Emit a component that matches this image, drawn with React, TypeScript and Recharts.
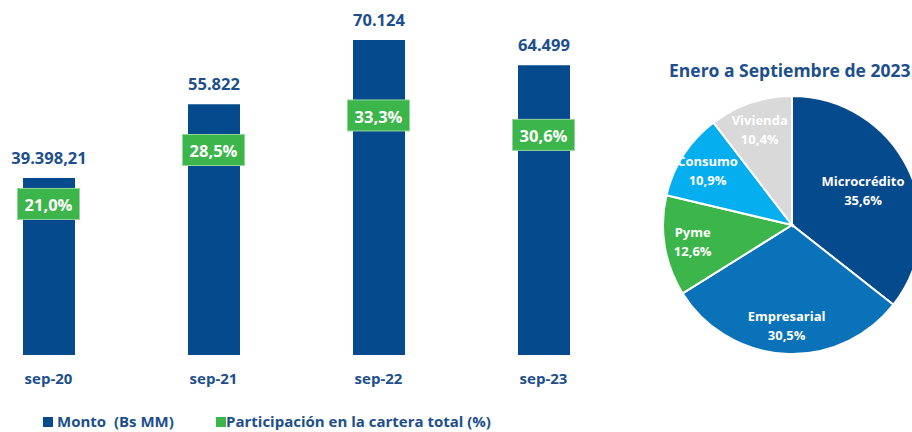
import React from 'react';
import { Bar, Line, XAxis, YAxis, LabelList, PieChart, Pie, Cell, ComposedChart } from 'recharts';

const categorias = ['sep-20', 'sep-21', 'sep-22', 'sep-23'];
const montos = [39398.21, 55822, 70124, 64499];
const participacion = [21.0, 28.5, 33.3, 30.6];

const sectores = ['Microcrédito', 'Empresarial', 'Pyme', 'Consumo', 'Vivienda'];
const sectorPct = [35.6, 30.5, 12.6, 10.9, 10.4];
const sectorColores = ['#044A8C', '#0A72B9', '#3CB54A', '#05AEEF', '#D9D9D9'];

const tituloPie = 'Enero a Septiembre de 2023';
const leyenda = ['Monto  (Bs MM)', 'Participación en la cartera total (%)'];

const AZUL = '#044A8C';
const TEXTO = '#1C4F8C';
const VERDE = '#3CB54A';
const FONT = '"Open Sans", sans-serif';

const barData = categorias.map((c, i) => ({ cat: c, monto: montos[i], pct: participacion[i] }));
const pieData = sectores.map((s, i) => ({ name: s, value: sectorPct[i] }));

function fmtMonto(v: number): string {
  const isInt = Number.isInteger(v);
  const [ent, dec] = v.toFixed(isInt ? 0 : 2).split('.');
  const entFmt = ent.replace(/\B(?=(\d{3})+(?!\d))/g, '.');
  return dec ? `${entFmt},${dec}` : entFmt;
}
function fmtPct(v: number): string {
  return v.toFixed(1).replace('.', ',') + '%';
}

const PctBox = (props: any) => {
  const { x, y, value } = props;
  if (x == null || y == null) return null;
  const w = 62;
  const h = 31;
  return (
    <g>
      <rect x={x - w / 2} y={y - h / 2} width={w} height={h} fill={VERDE} stroke="#93D69C" strokeWidth={1} />
      <text x={x} y={y + 1} textAnchor="middle" dominantBaseline="central" fill="#fff"
        fontFamily={FONT} fontWeight={700} fontSize={16.5}>{fmtPct(value)}</text>
    </g>
  );
};

const PIE_W = 272;
const RADIAN = Math.PI / 180;
const renderPieLabel = (props: any) => {
  const { cx, cy, midAngle, outerRadius, name, value } = props;
  const r = outerRadius * 0.78;
  const dx = Math.cos(-midAngle * RADIAN);
  const dy = Math.sin(-midAngle * RADIAN);
  let x = cx + r * dx;
  let y = cy + r * dy;
  const half = name.length * 3.75;
  if (x + half > PIE_W - 4) {
    x = PIE_W - 4 - half;
    const t = (x - cx) / dx;
    y = cy + t * dy;
  }
  return (
    <text x={x} y={y} textAnchor="middle" fill="#fff" fontFamily={FONT} fontWeight={700} fontSize={13}>
      <tspan x={x} y={y - 9.5} dominantBaseline="central">{name}</tspan>
      <tspan x={x} y={y + 9.5} dominantBaseline="central">{fmtPct(value)}</tspan>
    </text>
  );
};

export default function App() {
  return (
    <div style={{ position: 'relative', width: 912, height: 432, overflow: 'hidden', background: '#fff' }}>
      <style>{'body{margin:0;overflow:hidden}'}</style>
      <div style={{ position: 'absolute', left: -34.5, top: 0, width: 660, height: 432 }}>
        <ComposedChart width={660} height={432} data={barData} margin={{ top: 0, right: 0, left: 0, bottom: 47 }}>
          <XAxis dataKey="cat" height={30} axisLine={false} tickLine={false} tickMargin={12}
            tick={{ fill: TEXTO, fontFamily: FONT, fontWeight: 700, fontSize: 15 }} />
          <YAxis yAxisId="left" hide domain={[0, 79000]} />
          <YAxis yAxisId="right" hide orientation="right" domain={[0, 49.35]} />
          <Bar yAxisId="left" dataKey="monto" fill={AZUL} barSize={52} isAnimationActive={false}>
            <LabelList dataKey="monto" position="top" offset={14} formatter={(v: any) => fmtMonto(Number(v))}
              fill={TEXTO} fontFamily={FONT} fontWeight={700} fontSize={16.5} />
          </Bar>
          <Line yAxisId="right" dataKey="pct" stroke="none" dot={false} activeDot={false} isAnimationActive={false}>
            <LabelList dataKey="pct" content={<PctBox />} />
          </Line>
        </ComposedChart>
      </div>

      <div style={{ position: 'absolute', left: 0, top: 410, height: 22, fontFamily: FONT, fontWeight: 700,
        fontSize: 15, color: TEXTO, whiteSpace: 'pre' }}>
        <div style={{ position: 'absolute', left: 43, top: 7, width: 10, height: 10, background: AZUL }} />
        <div style={{ position: 'absolute', left: 57, top: 0, lineHeight: '22px' }}>{leyenda[0]}</div>
        <div style={{ position: 'absolute', left: 216, top: 7, width: 10, height: 10, background: VERDE }} />
        <div style={{ position: 'absolute', left: 226, top: 0, lineHeight: '22px' }}>{leyenda[1]}</div>
      </div>

      <div style={{ position: 'absolute', left: 640, top: 0, width: PIE_W, height: 432, overflow: 'hidden' }}>
        <PieChart width={PIE_W} height={432} margin={{ top: 0, right: 0, left: 0, bottom: 0 }}>
          <text x={29} y={70} dominantBaseline="central" fill={TEXTO} fontFamily={FONT} fontWeight={700} fontSize={17.5}>
            {tituloPie}
          </text>
          <Pie data={pieData} dataKey="value" nameKey="name" cx={152} cy={225} outerRadius={129}
            startAngle={90} endAngle={-270} stroke="#fff" strokeWidth={2} labelLine={false}
            label={renderPieLabel} isAnimationActive={false}>
            {pieData.map((d, i) => <Cell key={d.name} fill={sectorColores[i]} />)}
          </Pie>
        </PieChart>
      </div>
    </div>
  );
}
